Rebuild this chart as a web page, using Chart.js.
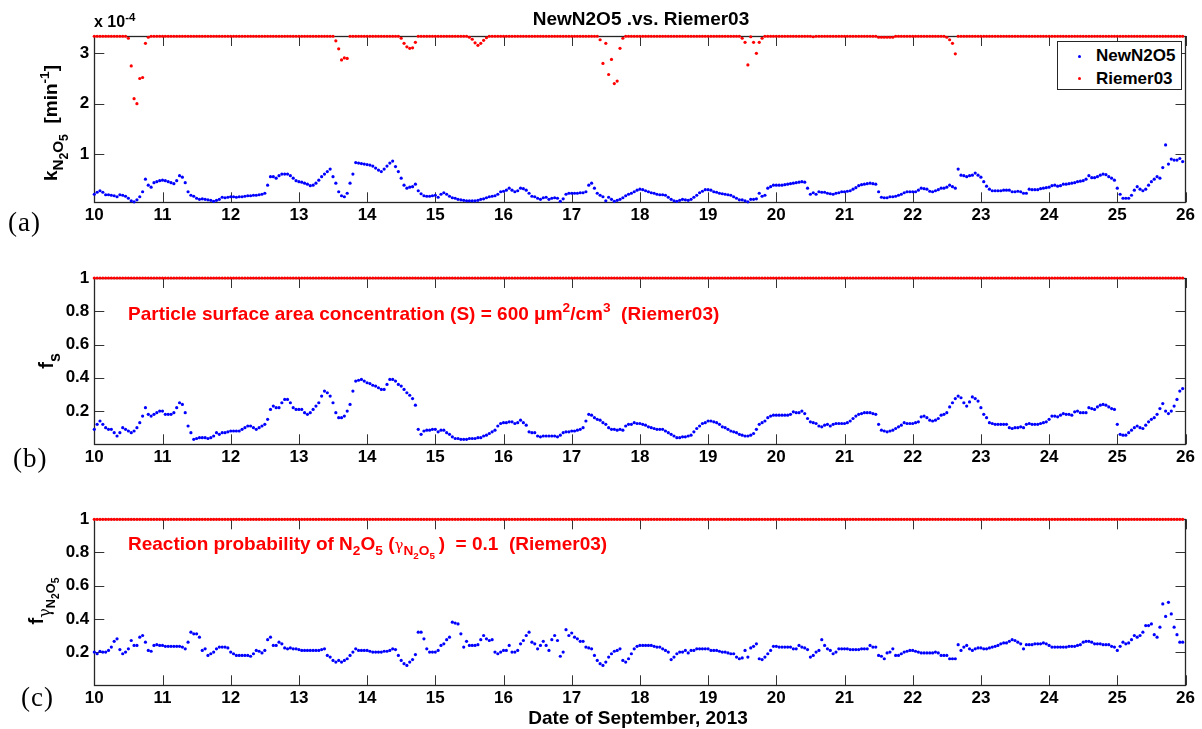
<!DOCTYPE html>
<html>
<head>
<meta charset="utf-8">
<title>NewN2O5 .vs. Riemer03</title>
<script src="https://cdn.jsdelivr.net/npm/chart.js@4.4.0/dist/chart.umd.min.js"></script>
<style>
  html, body { margin: 0; padding: 0; background: #fff; }
  #page { position: relative; width: 1202px; height: 729px; overflow: hidden; }
  canvas { position: absolute; left: 0; }
  .t {
    position: absolute; white-space: nowrap; line-height: 1; color: #000;
    font-family: "Liberation Sans", Arial, sans-serif; font-weight: bold;
  }
  .t sub, .t sup { font-size: 0.72em; line-height: 0; vertical-align: baseline; position: relative; }
  .t sub { top: 0.38em; }
  .t sup { top: -0.55em; }
  .ylab sub { font-size: 0.8em; top: 0.42em; }
  .rot { transform: translate(-50%, -50%) rotate(-90deg); }
  .red { color: #ff0000; }
  .panel { font-family: "Liberation Serif", "Times New Roman", serif; font-weight: normal; font-size: 27px; letter-spacing: 1px; }
  .g { font-weight: normal; font-family: "DejaVu Serif", serif; }
  #legend { position: absolute; left: 1057px; top: 41px; width: 123px; height: 47px; border: 1px solid #262626; background: #fff; }
  #legend .dot { position: absolute; width: 3px; height: 3px; border-radius: 50%; }
</style>
</head>
<body>
<div id="page">
  <canvas id="chartA" width="1202" height="240" style="top:0"></canvas>
  <canvas id="chartB" width="1202" height="240" style="top:240px"></canvas>
  <canvas id="chartC" width="1202" height="249" style="top:480px"></canvas>

  <div class="t" style="left:641px; top:9px; transform:translateX(-50%); font-size:19px;">NewN2O5 .vs. Riemer03</div>
  <div class="t" style="left:94px; top:14px; font-size:16px;">x 10<sup>-4</sup></div>

  <div id="legend">
    <span class="dot" style="left:20px; top:13px; background:#0000ff;"></span>
    <span class="t" style="left:38px; top:5px; font-size:17px;">NewN2O5</span>
    <span class="dot" style="left:20px; top:35px; background:#ff0000;"></span>
    <span class="t" style="left:38px; top:28px; font-size:17px;">Riemer03</span>
  </div>

  <div class="t rot ylab" style="left:50px; top:123px; font-size:19px;">k<sub>N<sub>2</sub>O<sub>5</sub></sub>&nbsp; [min<sup>-1</sup>]</div>
  <div class="t rot ylab" style="left:46px; top:361px; font-size:20px;">f<sub>s</sub></div>
  <div class="t rot ylab" style="left:36px; top:601px; font-size:20px;">f<sub><span class="g">γ</span><sub>N<sub>2</sub>O<sub>5</sub></sub></sub></div>

  <div class="t red" style="left:128px; top:304px; font-size:19px;">Particle surface area concentration (S) = 600 μm<sup>2</sup>/cm<sup>3</sup>&nbsp; (Riemer03)</div>
  <div class="t red" style="left:128px; top:534px; font-size:19px;">Reaction probability of N<sub>2</sub>O<sub>5</sub> (<span class="g" style="font-size:15px">γ</span><sub>N<sub>2</sub>O<sub>5</sub></sub>&thinsp;)&nbsp; = 0.1&nbsp; (Riemer03)</div>

  <div class="t panel" style="left:8px; top:209px;">(a)</div>
  <div class="t panel" style="left:13px; top:445px;">(b)</div>
  <div class="t panel" style="left:21px; top:684px;">(c)</div>

  <div class="t" style="left:638px; top:708px; transform:translateX(-50%); font-size:19px;">Date of September, 2013</div>
</div>

<script>
// hourly samples, 10 Sep 00:00 to 25 Sep 23:00 (one row per day)
const firstDay = 10;
const dayTicks = [10, 11, 12, 13, 14, 15, 16, 17, 18, 19, 20, 21, 22, 23, 24, 25, 26];
const kTicks = [1, 2, 3];
const fTicks = [0.2, 0.4, 0.6, 0.8, 1];

// k_N2O5, units of 1e-4 min^-1
const kNew = [
  0.20,0.24,0.27,0.24,0.19,0.19,0.18,0.17,0.15,0.19,0.18,0.16,0.12,0.07,0.05,0.09,0.15,0.25,0.50,0.38,0.34,0.43,0.45,0.47,
  0.48,0.47,0.45,0.43,0.41,0.47,0.57,0.54,0.43,0.25,0.18,0.16,0.12,0.10,0.11,0.10,0.09,0.08,0.06,0.08,0.10,0.14,0.13,0.14,
  0.15,0.15,0.14,0.15,0.15,0.16,0.17,0.17,0.18,0.18,0.19,0.20,0.22,0.38,0.55,0.55,0.52,0.57,0.60,0.60,0.60,0.57,0.52,0.47,
  0.45,0.44,0.42,0.40,0.37,0.38,0.42,0.48,0.55,0.60,0.65,0.70,0.55,0.42,0.25,0.17,0.15,0.22,0.42,0.60,0.83,0.82,0.81,0.80,
  0.79,0.78,0.76,0.72,0.68,0.65,0.70,0.76,0.82,0.86,0.75,0.65,0.52,0.38,0.32,0.34,0.35,0.40,0.27,0.21,0.17,0.16,0.16,0.17,
  0.18,0.14,0.20,0.23,0.20,0.16,0.13,0.12,0.10,0.09,0.08,0.07,0.07,0.07,0.07,0.08,0.10,0.11,0.13,0.15,0.16,0.17,0.20,0.25,
  0.26,0.28,0.32,0.28,0.25,0.27,0.32,0.31,0.28,0.22,0.16,0.15,0.12,0.10,0.13,0.14,0.10,0.12,0.13,0.12,0.06,0.11,0.20,0.22,
  0.22,0.22,0.22,0.23,0.23,0.25,0.38,0.42,0.32,0.22,0.18,0.15,0.07,0.14,0.10,0.06,0.08,0.10,0.13,0.17,0.20,0.22,0.25,0.28,
  0.30,0.29,0.27,0.25,0.23,0.22,0.20,0.19,0.19,0.18,0.14,0.10,0.07,0.06,0.08,0.10,0.09,0.08,0.10,0.14,0.18,0.23,0.26,0.29,
  0.29,0.28,0.25,0.24,0.22,0.21,0.20,0.19,0.18,0.15,0.12,0.09,0.09,0.07,0.05,0.10,0.10,0.11,0.22,0.16,0.18,0.32,0.35,0.38,
  0.38,0.38,0.38,0.39,0.40,0.41,0.42,0.43,0.44,0.45,0.44,0.32,0.20,0.23,0.20,0.25,0.24,0.24,0.22,0.21,0.20,0.22,0.23,0.25,
  0.25,0.26,0.27,0.30,0.33,0.37,0.39,0.40,0.41,0.42,0.41,0.40,0.25,0.14,0.13,0.13,0.15,0.15,0.16,0.18,0.20,0.23,0.25,0.25,
  0.25,0.25,0.28,0.32,0.31,0.30,0.26,0.25,0.27,0.29,0.32,0.32,0.34,0.38,0.35,0.32,0.70,0.58,0.57,0.55,0.57,0.58,0.62,0.58,
  0.54,0.45,0.36,0.30,0.27,0.27,0.27,0.27,0.28,0.28,0.28,0.25,0.25,0.26,0.25,0.22,0.22,0.30,0.29,0.29,0.29,0.31,0.32,0.33,
  0.34,0.37,0.38,0.36,0.37,0.40,0.40,0.41,0.42,0.43,0.45,0.46,0.47,0.50,0.57,0.53,0.53,0.55,0.58,0.60,0.59,0.55,0.52,0.48,
  0.32,0.20,0.12,0.12,0.12,0.18,0.28,0.35,0.30,0.27,0.30,0.38,0.45,0.50,0.55,0.52,0.73,1.18,0.80,0.90,0.88,0.88,0.91,0.85
];
const kRiemer = [
  3.34,3.34,3.34,3.34,3.34,3.34,3.34,3.34,3.34,3.34,3.34,3.34,3.30,2.75,2.10,2.00,2.50,2.52,3.20,3.32,3.34,3.34,3.34,3.34,
  3.34,3.34,3.34,3.34,3.34,3.34,3.34,3.34,3.34,3.34,3.34,3.34,3.34,3.34,3.34,3.34,3.34,3.34,3.34,3.34,3.34,3.34,3.34,3.34,
  3.34,3.34,3.34,3.34,3.34,3.34,3.34,3.34,3.34,3.34,3.34,3.34,3.34,3.34,3.34,3.34,3.34,3.34,3.34,3.34,3.34,3.34,3.34,3.34,
  3.34,3.34,3.34,3.34,3.34,3.34,3.34,3.34,3.34,3.34,3.34,3.34,3.34,3.25,3.09,2.87,2.91,2.90,3.34,3.34,3.34,3.34,3.34,3.34,
  3.34,3.34,3.34,3.34,3.34,3.34,3.34,3.34,3.34,3.34,3.34,3.34,3.30,3.20,3.13,3.10,3.11,3.22,3.34,3.34,3.34,3.34,3.34,3.34,
  3.34,3.34,3.34,3.34,3.34,3.34,3.34,3.34,3.34,3.34,3.34,3.34,3.32,3.28,3.21,3.16,3.20,3.26,3.31,3.34,3.34,3.34,3.34,3.34,
  3.34,3.34,3.34,3.34,3.34,3.34,3.34,3.34,3.34,3.34,3.34,3.34,3.34,3.34,3.34,3.34,3.34,3.34,3.34,3.34,3.34,3.34,3.34,3.34,
  3.34,3.34,3.34,3.34,3.34,3.34,3.34,3.34,3.34,3.34,3.27,2.80,3.20,2.58,2.88,2.40,2.45,3.10,3.30,3.34,3.34,3.34,3.34,3.34,
  3.34,3.34,3.34,3.34,3.34,3.34,3.34,3.34,3.34,3.34,3.34,3.34,3.34,3.34,3.34,3.34,3.34,3.34,3.34,3.34,3.34,3.34,3.34,3.34,
  3.34,3.34,3.34,3.34,3.34,3.34,3.34,3.34,3.34,3.34,3.34,3.34,3.30,3.22,2.77,3.33,3.22,3.00,3.22,3.30,3.34,3.34,3.34,3.34,
  3.34,3.34,3.34,3.34,3.34,3.34,3.34,3.34,3.34,3.34,3.34,3.34,3.34,3.33,3.34,3.34,3.34,3.34,3.34,3.34,3.34,3.34,3.34,3.34,
  3.34,3.34,3.34,3.34,3.34,3.34,3.34,3.34,3.34,3.34,3.34,3.34,3.32,3.32,3.32,3.32,3.32,3.32,3.34,3.34,3.34,3.34,3.34,3.34,
  3.34,3.34,3.34,3.34,3.34,3.34,3.34,3.34,3.34,3.34,3.34,3.34,3.32,3.27,3.20,2.99,3.34,3.34,3.34,3.34,3.34,3.34,3.34,3.34,
  3.34,3.34,3.34,3.34,3.34,3.34,3.34,3.34,3.34,3.34,3.34,3.34,3.34,3.34,3.34,3.34,3.34,3.34,3.34,3.34,3.34,3.34,3.34,3.34,
  3.34,3.34,3.34,3.34,3.34,3.34,3.34,3.34,3.34,3.34,3.34,3.34,3.34,3.34,3.34,3.34,3.34,3.34,3.34,3.34,3.34,3.34,3.34,3.34,
  3.34,3.34,3.34,3.34,3.34,3.34,3.34,3.34,3.34,3.34,3.34,3.34,3.34,3.34,3.34,3.34,3.34,3.34,3.34,3.34,3.34,3.34,3.34,3.34
];

// f_S
const fsNew = [
  0.09,0.12,0.14,0.12,0.10,0.09,0.09,0.07,0.05,0.07,0.10,0.09,0.08,0.07,0.08,0.10,0.13,0.17,0.22,0.18,0.17,0.18,0.19,0.20,
  0.20,0.18,0.18,0.18,0.19,0.22,0.25,0.24,0.19,0.11,0.07,0.03,0.035,0.04,0.04,0.04,0.035,0.04,0.05,0.07,0.06,0.07,0.07,0.075,
  0.08,0.08,0.08,0.08,0.09,0.10,0.11,0.11,0.10,0.09,0.10,0.11,0.12,0.15,0.21,0.23,0.22,0.22,0.25,0.27,0.27,0.25,0.22,0.21,
  0.21,0.21,0.19,0.18,0.19,0.21,0.23,0.25,0.29,0.32,0.31,0.29,0.25,0.19,0.16,0.16,0.17,0.20,0.24,0.32,0.38,0.385,0.39,0.38,
  0.37,0.365,0.355,0.35,0.34,0.33,0.33,0.36,0.39,0.39,0.38,0.36,0.35,0.33,0.31,0.295,0.275,0.235,0.09,0.06,0.08,0.085,0.085,0.09,
  0.09,0.075,0.085,0.085,0.07,0.06,0.045,0.035,0.035,0.03,0.03,0.03,0.035,0.035,0.035,0.04,0.04,0.05,0.055,0.065,0.075,0.085,0.11,0.125,
  0.13,0.13,0.135,0.135,0.125,0.13,0.145,0.13,0.115,0.075,0.07,0.07,0.05,0.045,0.05,0.05,0.05,0.05,0.05,0.045,0.055,0.07,0.075,0.075,
  0.08,0.08,0.085,0.09,0.10,0.14,0.18,0.175,0.16,0.15,0.145,0.13,0.12,0.10,0.09,0.09,0.085,0.09,0.085,0.11,0.12,0.12,0.13,0.125,
  0.125,0.12,0.115,0.105,0.10,0.095,0.09,0.09,0.09,0.08,0.07,0.06,0.05,0.04,0.04,0.045,0.045,0.05,0.055,0.075,0.095,0.11,0.125,0.13,
  0.14,0.14,0.135,0.13,0.12,0.105,0.10,0.09,0.08,0.075,0.07,0.06,0.055,0.05,0.05,0.055,0.065,0.09,0.12,0.13,0.14,0.16,0.17,0.175,
  0.175,0.175,0.175,0.175,0.175,0.18,0.195,0.19,0.19,0.20,0.185,0.155,0.135,0.13,0.125,0.11,0.105,0.115,0.12,0.11,0.12,0.125,0.125,0.125,
  0.125,0.13,0.14,0.155,0.17,0.18,0.185,0.19,0.19,0.19,0.185,0.18,0.12,0.085,0.08,0.075,0.08,0.085,0.095,0.105,0.115,0.13,0.125,0.125,
  0.125,0.13,0.135,0.165,0.17,0.16,0.145,0.14,0.145,0.155,0.175,0.18,0.19,0.225,0.25,0.275,0.29,0.28,0.25,0.23,0.255,0.285,0.275,0.26,
  0.22,0.18,0.16,0.13,0.125,0.12,0.12,0.12,0.12,0.12,0.10,0.095,0.10,0.10,0.105,0.10,0.12,0.125,0.12,0.12,0.12,0.125,0.13,0.135,
  0.15,0.17,0.17,0.165,0.175,0.185,0.18,0.18,0.175,0.195,0.20,0.19,0.19,0.19,0.22,0.215,0.21,0.225,0.235,0.24,0.235,0.225,0.215,0.21,
  0.12,0.06,0.055,0.055,0.07,0.085,0.10,0.11,0.10,0.095,0.115,0.135,0.15,0.16,0.18,0.215,0.245,0.20,0.185,0.20,0.23,0.27,0.32,0.335
];

// f_gamma(N2O5)
const fgNew = [
  0.20,0.19,0.205,0.20,0.20,0.21,0.23,0.265,0.28,0.215,0.19,0.20,0.22,0.27,0.24,0.24,0.29,0.30,0.26,0.21,0.205,0.24,0.245,0.24,
  0.24,0.235,0.235,0.235,0.235,0.235,0.235,0.23,0.22,0.26,0.32,0.31,0.31,0.29,0.21,0.22,0.18,0.19,0.20,0.22,0.23,0.23,0.23,0.225,
  0.20,0.19,0.18,0.18,0.18,0.18,0.18,0.175,0.19,0.21,0.205,0.195,0.21,0.275,0.29,0.24,0.24,0.26,0.25,0.225,0.22,0.225,0.22,0.22,
  0.215,0.21,0.21,0.21,0.21,0.21,0.21,0.21,0.215,0.22,0.18,0.17,0.15,0.14,0.15,0.14,0.15,0.16,0.18,0.20,0.22,0.21,0.21,0.21,
  0.21,0.205,0.20,0.20,0.20,0.20,0.205,0.205,0.21,0.22,0.215,0.18,0.15,0.13,0.12,0.14,0.155,0.185,0.32,0.32,0.28,0.22,0.20,0.20,
  0.20,0.21,0.24,0.25,0.275,0.29,0.38,0.375,0.37,0.31,0.23,0.265,0.24,0.24,0.24,0.245,0.275,0.30,0.28,0.27,0.275,0.20,0.19,0.20,
  0.21,0.21,0.24,0.20,0.20,0.21,0.25,0.27,0.30,0.32,0.26,0.25,0.22,0.24,0.265,0.24,0.21,0.275,0.30,0.27,0.175,0.20,0.335,0.30,
  0.315,0.29,0.28,0.265,0.265,0.23,0.225,0.22,0.18,0.15,0.13,0.12,0.14,0.17,0.19,0.205,0.21,0.22,0.15,0.14,0.16,0.19,0.22,0.235,
  0.24,0.24,0.24,0.24,0.24,0.235,0.23,0.23,0.22,0.21,0.20,0.155,0.17,0.19,0.20,0.20,0.21,0.195,0.21,0.21,0.22,0.22,0.22,0.22,
  0.22,0.21,0.21,0.21,0.205,0.20,0.20,0.195,0.19,0.19,0.17,0.16,0.165,0.21,0.17,0.225,0.235,0.25,0.16,0.155,0.17,0.19,0.21,0.235,
  0.235,0.23,0.23,0.23,0.23,0.23,0.22,0.22,0.24,0.23,0.225,0.215,0.17,0.18,0.20,0.21,0.275,0.24,0.22,0.21,0.19,0.20,0.22,0.22,
  0.22,0.22,0.215,0.215,0.215,0.215,0.22,0.22,0.22,0.24,0.23,0.23,0.18,0.175,0.16,0.195,0.20,0.22,0.18,0.18,0.19,0.20,0.205,0.21,
  0.21,0.205,0.20,0.195,0.195,0.195,0.195,0.195,0.20,0.195,0.18,0.18,0.18,0.16,0.16,0.16,0.245,0.21,0.23,0.24,0.22,0.21,0.22,0.225,
  0.225,0.22,0.22,0.225,0.23,0.235,0.24,0.25,0.255,0.255,0.265,0.275,0.27,0.26,0.25,0.22,0.245,0.245,0.245,0.25,0.25,0.25,0.255,0.25,
  0.24,0.23,0.23,0.23,0.23,0.23,0.23,0.235,0.235,0.235,0.24,0.245,0.26,0.265,0.265,0.26,0.25,0.25,0.25,0.245,0.245,0.245,0.235,0.23,
  0.21,0.235,0.26,0.25,0.255,0.275,0.30,0.29,0.30,0.32,0.36,0.36,0.37,0.305,0.29,0.35,0.49,0.415,0.50,0.43,0.35,0.305,0.26,0.26
];

// Riemer03 uses fixed S and gamma, so both ratios sit at 1 (same for panels b and c)
const fRiemer = [
  1,1,1,1,1,1,1,1,1,1,1,1,1,1,1,1,1,1,1,1,1,1,1,1,
  1,1,1,1,1,1,1,1,1,1,1,1,1,1,1,1,1,1,1,1,1,1,1,1,
  1,1,1,1,1,1,1,1,1,1,1,1,1,1,1,1,1,1,1,1,1,1,1,1,
  1,1,1,1,1,1,1,1,1,1,1,1,1,1,1,1,1,1,1,1,1,1,1,1,
  1,1,1,1,1,1,1,1,1,1,1,1,1,1,1,1,1,1,1,1,1,1,1,1,
  1,1,1,1,1,1,1,1,1,1,1,1,1,1,1,1,1,1,1,1,1,1,1,1,
  1,1,1,1,1,1,1,1,1,1,1,1,1,1,1,1,1,1,1,1,1,1,1,1,
  1,1,1,1,1,1,1,1,1,1,1,1,1,1,1,1,1,1,1,1,1,1,1,1,
  1,1,1,1,1,1,1,1,1,1,1,1,1,1,1,1,1,1,1,1,1,1,1,1,
  1,1,1,1,1,1,1,1,1,1,1,1,1,1,1,1,1,1,1,1,1,1,1,1,
  1,1,1,1,1,1,1,1,1,1,1,1,1,1,1,1,1,1,1,1,1,1,1,1,
  1,1,1,1,1,1,1,1,1,1,1,1,1,1,1,1,1,1,1,1,1,1,1,1,
  1,1,1,1,1,1,1,1,1,1,1,1,1,1,1,1,1,1,1,1,1,1,1,1,
  1,1,1,1,1,1,1,1,1,1,1,1,1,1,1,1,1,1,1,1,1,1,1,1,
  1,1,1,1,1,1,1,1,1,1,1,1,1,1,1,1,1,1,1,1,1,1,1,1,
  1,1,1,1,1,1,1,1,1,1,1,1,1,1,1,1,1,1,1,1,1,1,1,1
];

const BLUE = '#0000ff';
const RED = '#ff0000';
const tickFont = { family: 'Liberation Sans', size: 17, weight: 'bold' };

// hour index -> day of September
function toPoints(values) {
  return values.map((v, i) => ({ x: firstDay + i / 24, y: v }));
}

// matlab style box with inward ticks on all four sides
const matlabAxes = {
  id: 'matlabAxes',
  beforeDatasetsDraw(chart) {
    const { ctx, chartArea: a } = chart;
    const x = chart.scales.x, y = chart.scales.y;
    const len = 10;
    ctx.save();
    ctx.strokeStyle = '#333';
    ctx.lineWidth = 1;
    ctx.beginPath();
    x.ticks.forEach(t => {
      const px = Math.round(x.getPixelForValue(t.value)) + 0.5;
      ctx.moveTo(px, a.bottom); ctx.lineTo(px, a.bottom - len);
      ctx.moveTo(px, a.top); ctx.lineTo(px, a.top + len);
    });
    y.ticks.forEach(t => {
      const py = Math.round(y.getPixelForValue(t.value)) + 0.5;
      ctx.moveTo(a.left, py); ctx.lineTo(a.left + len, py);
      ctx.moveTo(a.right, py); ctx.lineTo(a.right - len, py);
    });
    ctx.stroke();
    ctx.lineWidth = 1.3;
    ctx.strokeStyle = '#262626';
    ctx.strokeRect(Math.round(a.left) + 0.5, Math.round(a.top) + 0.5,
                   Math.round(a.right - a.left), Math.round(a.bottom - a.top));
    ctx.restore();
  }
};

function makePanel(canvasId, canvasTop, areaTop, areaBottom, height, series, yMin, yMax, yTicks) {
  const datasets = series.map(s => ({
    label: s.label,
    data: toPoints(s.values),
    backgroundColor: s.color,
    borderWidth: 0,
    pointRadius: 1.6,
    pointHoverRadius: 1.6,
    clip: false
  }));
  return new Chart(document.getElementById(canvasId), {
    type: 'scatter',
    data: { datasets },
    options: {
      responsive: false,
      animation: false,
      devicePixelRatio: 1,
      events: [],
      layout: { padding: { left: 0, right: 1202 - 1185.5, top: areaTop - canvasTop, bottom: 0 } },
      plugins: { legend: { display: false }, tooltip: { enabled: false } },
      scales: {
        x: {
          type: 'linear', min: 10, max: 26,
          grid: { display: false, drawTicks: false },
          border: { display: false },
          afterBuildTicks: s => { s.ticks = dayTicks.map(v => ({ value: v })); },
          afterFit: s => { s.height = canvasTop + height - areaBottom; },
          ticks: { font: tickFont, color: '#000', padding: 3, maxRotation: 0, autoSkip: false, callback: v => String(v) }
        },
        y: {
          type: 'linear', min: yMin, max: yMax,
          grid: { display: false, drawTicks: false },
          border: { display: false },
          afterBuildTicks: s => { s.ticks = yTicks.map(v => ({ value: v })); },
          afterFit: s => { s.width = 94.3; },
          ticks: { font: tickFont, color: '#000', padding: 5, autoSkip: false, callback: v => String(v) }
        }
      }
    },
    plugins: [matlabAxes]
  });
}

makePanel('chartA', 0, 36, 202.3, 240, [
  { label: 'Riemer03', values: kRiemer, color: RED },
  { label: 'NewN2O5', values: kNew, color: BLUE }
], 0.04, 3.345, kTicks);

makePanel('chartB', 240, 278, 444.3, 240, [
  { label: 'Riemer03', values: fRiemer, color: RED },
  { label: 'NewN2O5', values: fsNew, color: BLUE }
], 0, 1, fTicks);

makePanel('chartC', 480, 519.3, 685.3, 249, [
  { label: 'Riemer03', values: fRiemer, color: RED },
  { label: 'NewN2O5', values: fgNew, color: BLUE }
], 0, 1, fTicks);
</script>
</body>
</html>
